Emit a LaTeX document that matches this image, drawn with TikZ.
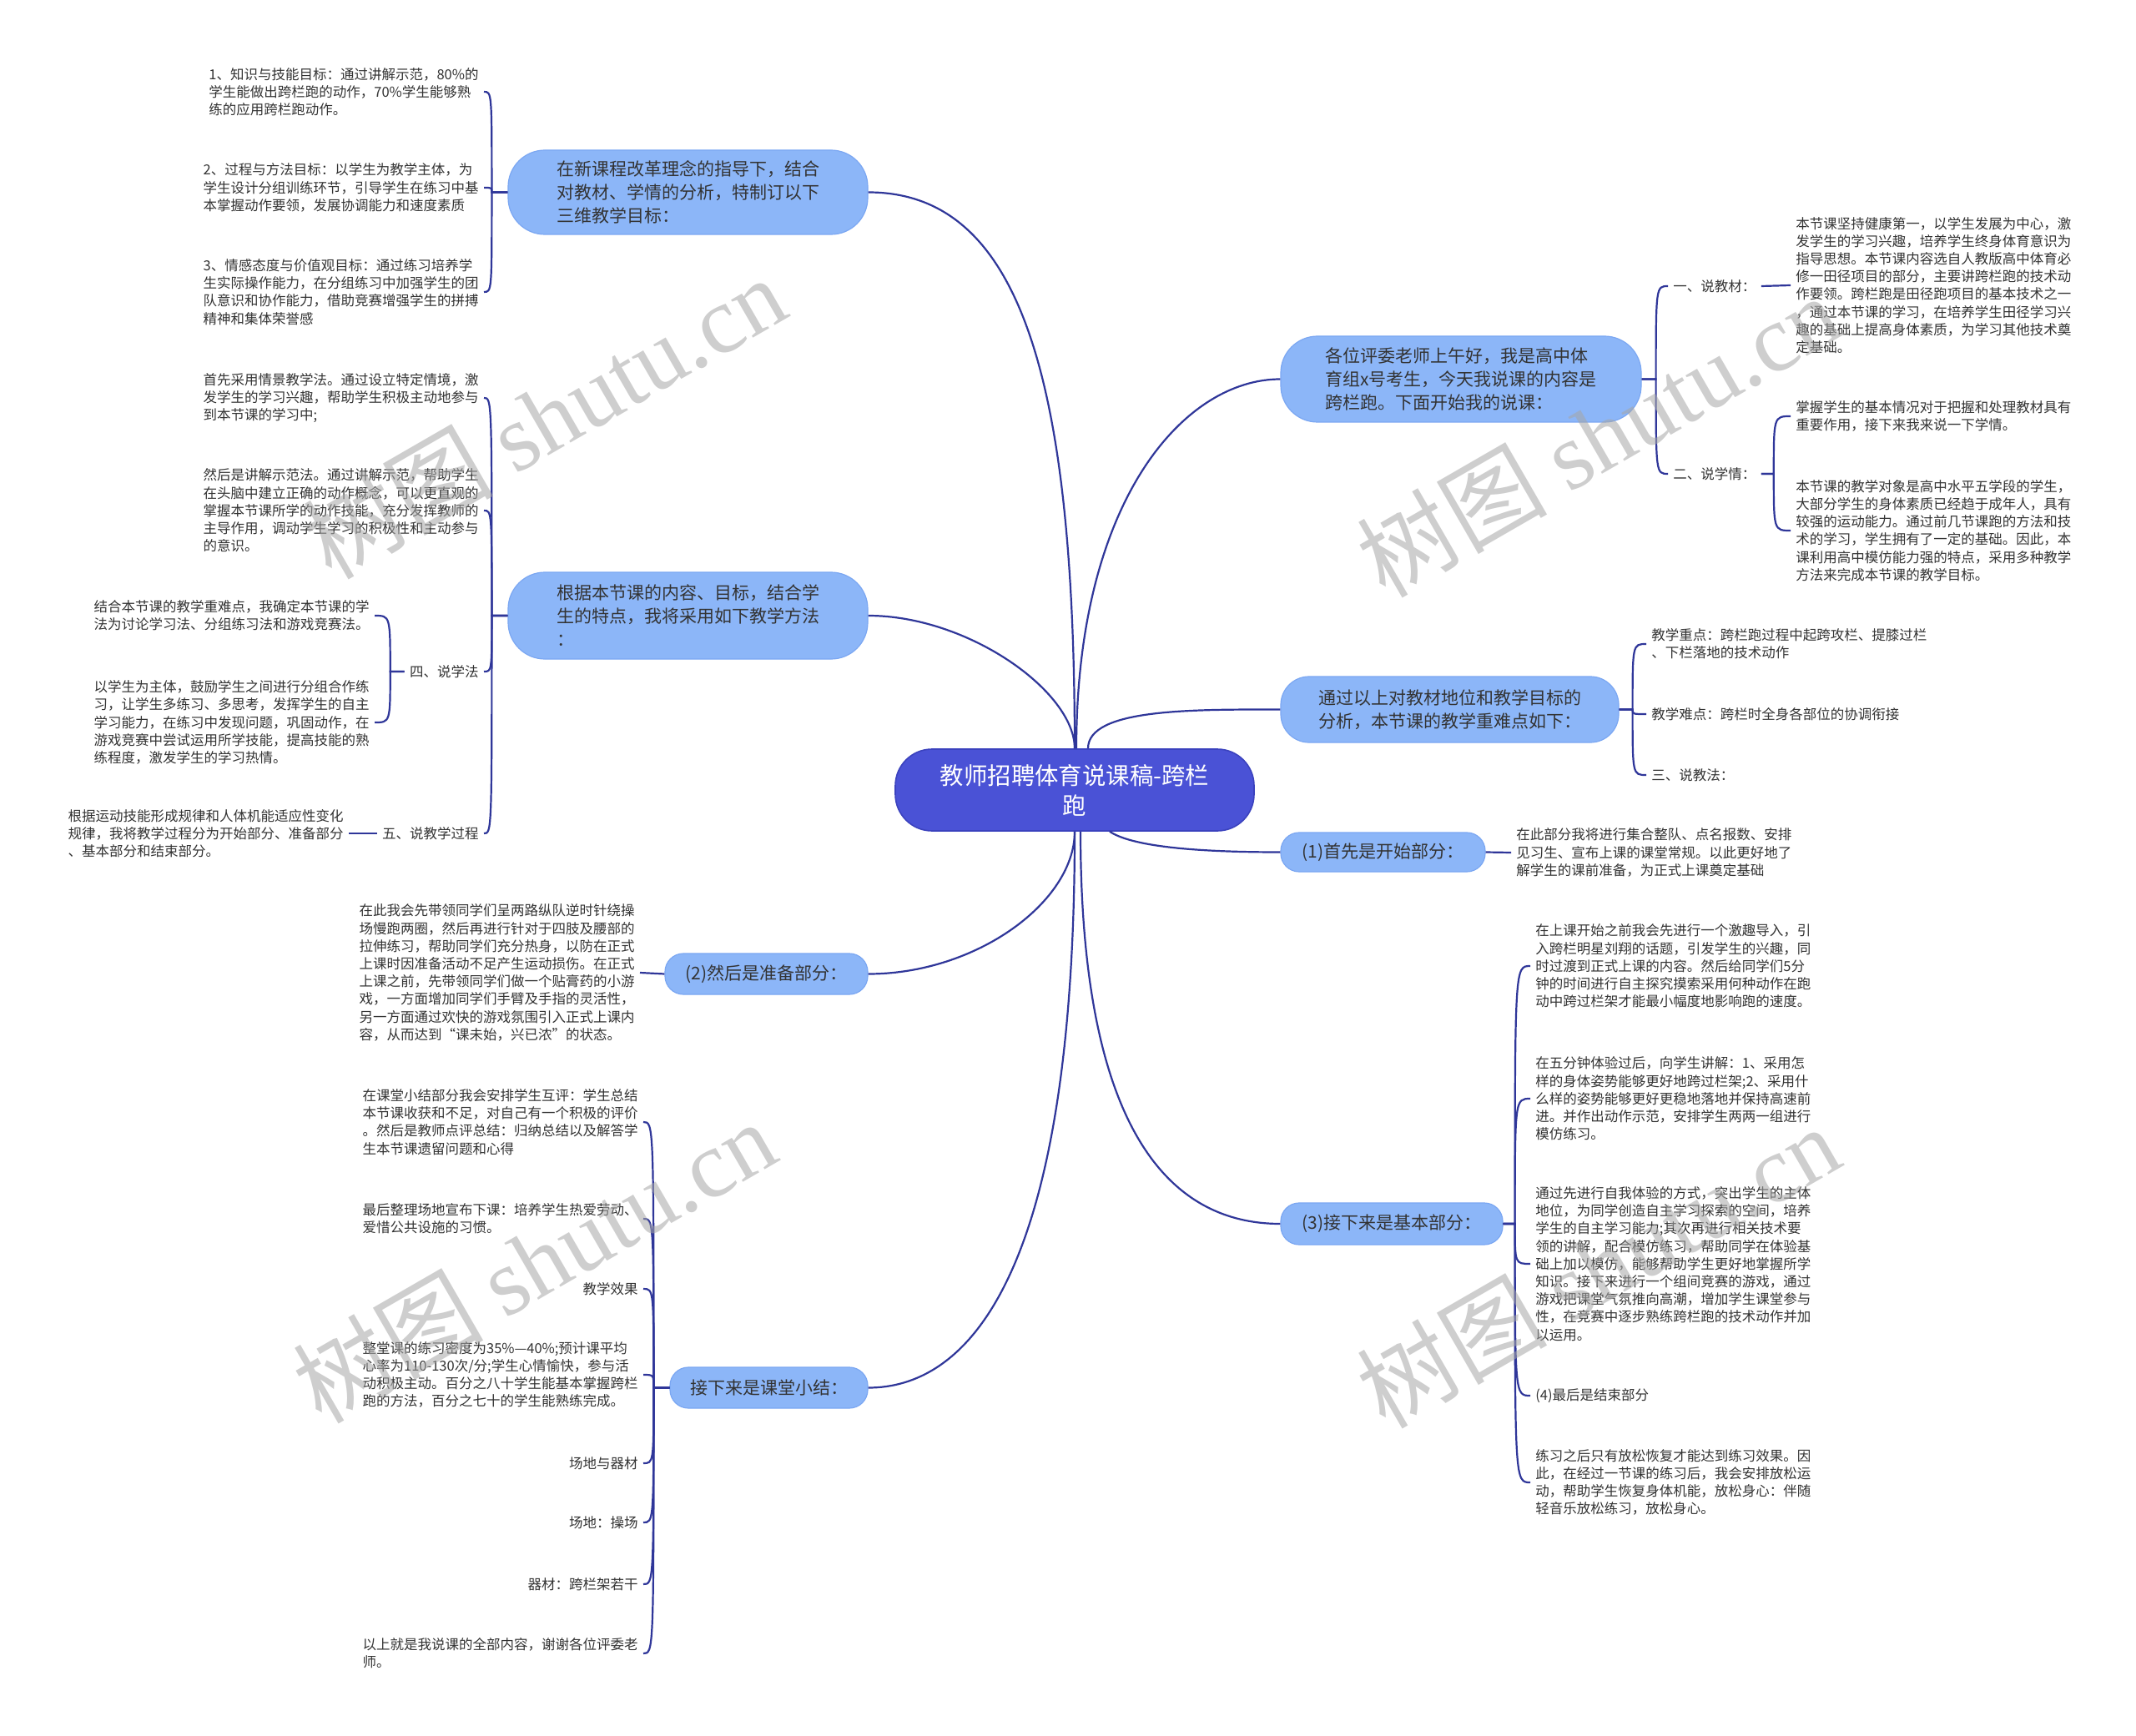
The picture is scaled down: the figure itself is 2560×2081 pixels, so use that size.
\documentclass[tikz,border=0pt]{standalone}
\usepackage{fontspec}
\setmainfont{Noto Sans CJK SC}
\newfontfamily\marklatin{Liberation Serif}
\usepackage{xcolor}
\usetikzlibrary{calc,positioning}
\definecolor{linkblue}{HTML}{2F3699}
\definecolor{rootblue}{HTML}{4A52D6}
\definecolor{rootedge}{HTML}{3B42BE}
\definecolor{topicblue}{HTML}{8CB6F8}
\definecolor{topicedge}{HTML}{7BA7F2}
\definecolor{inkgray}{HTML}{333333}
\tikzset{
  link/.style={line width=1.1pt,linkblue},
  rootnode/.style={draw=rootedge,line width=0.8pt,fill=rootblue,text=white,rounded corners=22pt,align=center,minimum width=215pt,minimum height=49pt,font=\fontsize{14.2}{18}\selectfont},
  topic/.style={draw=topicedge,line width=0.6pt,fill=topicblue,text=inkgray,rounded corners=#1,align=left,font=\fontsize{10.5}{14}\selectfont},
  topic/.default=11pt,
  leaf/.style={text=inkgray,align=left,inner sep=3pt,font=\fontsize{8.25}{10.6}\selectfont},
  leafleft/.style={leaf,anchor=east},
  leafright/.style={leaf,anchor=west},
  watermark/.style={text=black!35,opacity=0.55,rotate=30,font=\fontsize{57}{57}\selectfont}
}
\begin{document}
\begin{tikzpicture}[x=0.5pt,y=-0.5pt]
  \useasboundingbox (0,0) rectangle (2560,2081);
  \fill[white] (0,0) rectangle (2560,2081);

  % centre and first level
  \node[rootnode] (M) at (1288,947) {教师招聘体育说课稿-跨栏\\跑};
  \node[topic=22pt,minimum width=215.5pt,minimum height=50.5pt] (A) at (824.5,230.5) {在新课程改革理念的指导下，结合\\对教材、学情的分析，特制订以下\\三维教学目标：};
  \node[topic=22pt,minimum width=215.5pt,minimum height=52pt] (B) at (824.5,738) {根据本节课的内容、目标，结合学\\生的特点，我将采用如下教学方法\\：};
  \node[topic,minimum width=121.5pt,minimum height=24.5pt] (C) at (918.5,1167.5) {(2)然后是准备部分：};
  \node[topic,minimum width=118.5pt,minimum height=24.5pt] (D) at (921.5,1663.5) {接下来是课堂小结：};
  \node[topic=22pt,minimum width=216pt,minimum height=51.5pt] (E) at (1751,454.5) {各位评委老师上午好，我是高中体\\育组x号考生，今天我说课的内容是\\跨栏跑。下面开始我的说课：};
  \node[topic=17pt,minimum width=202.5pt,minimum height=39.5pt] (F) at (1737.5,850.5) {通过以上对教材地位和教学目标的\\分析，本节课的教学重难点如下：};
  \node[topic,minimum width=122.5pt,minimum height=23.5pt] (G) at (1657.5,1021.5) {(1)首先是开始部分：};
  \node[topic,minimum width=133pt,minimum height=25pt] (H) at (1668,1467) {(3)接下来是基本部分：};

  \draw[link] (M.north) .. controls +(0,-450) and +(180,0) .. (A.east);
  \draw[link] (M.north) .. controls +(0,-68) and +(120,0) .. (B.east);
  \draw[link] (M.south) .. controls +(0,84) and +(130,0) .. (C.east);
  \draw[link] (M.south) .. controls +(0,554) and +(110,0) .. (D.east);
  \draw[link] ([xshift=1pt]M.north) .. controls +(0,-298) and +(-115,0) .. (E.west);
  \draw[link] ([xshift=8pt]M.north) .. controls +(0,-48) and +(-105,0) .. (F.west);
  \draw[link] ([xshift=21pt]M.south) .. controls +(30,20) and +(-85,0) .. (G.west);
  \draw[link] ([xshift=3.5pt]M.south) .. controls +(0,354) and +(-135,0) .. (H.west);

  % left: goals
  \node[leafleft] (a1) at (580,110) {1、知识与技能目标：通过讲解示范，80\%的\\学生能做出跨栏跑的动作，70\%学生能够熟\\练的应用跨栏跑动作。};
  \node[leafleft] (a2) at (580,225) {2、过程与方法目标：以学生为教学主体，为\\学生设计分组训练环节，引导学生在练习中基\\本掌握动作要领，发展协调能力和速度素质};
  \node[leafleft] (a3) at (580,350) {3、情感态度与价值观目标：通过练习培养学\\生实际操作能力，在分组练习中加强学生的团\\队意识和协作能力，借助竞赛增强学生的拼搏\\精神和集体荣誉感};
  \coordinate (Ab) at ([xshift=-9.5pt]A.west);
  \foreach \kid in {a1,a2,a3}
    \draw[link] (A.west) -- (Ab) .. controls (Ab |- \kid.east) .. (\kid.east);

  % left: methods
  \node[leafleft] (b1) at (580,477) {首先采用情景教学法。通过设立特定情境，激\\发学生的学习兴趣，帮助学生积极主动地参与\\到本节课的学习中;};
  \node[leafleft] (b2) at (580,612) {然后是讲解示范法。通过讲解示范，帮助学生\\在头脑中建立正确的动作概念，可以更直观的\\掌握本节课所学的动作技能，充分发挥教师的\\主导作用，调动学生学习的积极性和主动参与\\的意识。};
  \node[leafleft] (b3) at (580,805) {四、说学法};
  \node[leafleft] (b4) at (580,999) {五、说教学过程};
  \coordinate (Bb) at ([xshift=-9.5pt]B.west);
  \foreach \kid in {b1,b2,b3,b4}
    \draw[link] (B.west) -- (Bb) .. controls (Bb |- \kid.east) .. (\kid.east);
  \node[leafleft] (b31) at (449,738) {结合本节课的教学重难点，我确定本节课的学\\法为讨论学习法、分组练习法和游戏竞赛法。};
  \node[leafleft] (b32) at (449,866) {以学生为主体，鼓励学生之间进行分组合作练\\习，让学生多练习、多思考，发挥学生的自主\\学习能力，在练习中发现问题，巩固动作，在\\游戏竞赛中尝试运用所学技能，提高技能的熟\\练程度，激发学生的学习热情。};
  \coordinate (b3b) at ([xshift=-8.5pt]b3.west);
  \foreach \kid in {b31,b32}
    \draw[link] (b3.west) -- (b3b) .. controls (b3b |- \kid.east) .. (\kid.east);
  \node[leafleft] (b41) at (418,999) {根据运动技能形成规律和人体机能适应性变化\\规律，我将教学过程分为开始部分、准备部分\\、基本部分和结束部分。};
  \draw[link] (b4.west) -- (b41.east);

  % left: preparation
  \node[leafleft] (c1) at (767,1166) {在此我会先带领同学们呈两路纵队逆时针绕操\\场慢跑两圈，然后再进行针对于四肢及腰部的\\拉伸练习，帮助同学们充分热身，以防在正式\\上课时因准备活动不足产生运动损伤。在正式\\上课之前，先带领同学们做一个贴膏药的小游\\戏，一方面增加同学们手臂及手指的灵活性，\\另一方面通过欢快的游戏氛围引入正式上课内\\容，从而达到“课未始，兴已浓”的状态。};
  \draw[link] (C.west) -- (c1.east);

  % left: summary
  \node[leafleft] (d1) at (771,1345) {在课堂小结部分我会安排学生互评：学生总结\\本节课收获和不足，对自己有一个积极的评价\\。然后是教师点评总结：归纳总结以及解答学\\生本节课遗留问题和心得};
  \node[leafleft] (d2) at (771,1461) {最后整理场地宣布下课：培养学生热爱劳动、\\爱惜公共设施的习惯。};
  \node[leafleft] (d3) at (771,1545) {教学效果};
  \node[leafleft] (d4) at (771,1648) {整堂课的练习密度为35\%—40\%;预计课平均\\心率为110-130次/分;学生心情愉快，参与活\\动积极主动。百分之八十学生能基本掌握跨栏\\跑的方法，百分之七十的学生能熟练完成。};
  \node[leafleft] (d5) at (771,1754) {场地与器材};
  \node[leafleft] (d6) at (771,1825) {场地：操场};
  \node[leafleft] (d7) at (771,1899) {器材：跨栏架若干};
  \node[leafleft] (d8) at (771,1982) {以上就是我说课的全部内容，谢谢各位评委老\\师。};
  \coordinate (Db) at ([xshift=-9.5pt]D.west);
  \foreach \kid in {d1,d2,d3,d4,d5,d6,d7,d8}
    \draw[link] (D.west) -- (Db) .. controls (Db |- \kid.east) .. (\kid.east);

  % right: opening
  \node[leafright] (e1) at (1999,343) {一、说教材：};
  \node[leafright] (e2) at (1999,568) {二、说学情：};
  \coordinate (Eb) at ([xshift=8.5pt]E.east);
  \foreach \kid in {e1,e2}
    \draw[link] (E.east) -- (Eb) .. controls (Eb |- \kid.west) .. (\kid.west);
  \node[leafright] (e11) at (2146,342) {本节课坚持健康第一，以学生发展为中心，激\\发学生的学习兴趣，培养学生终身体育意识为\\指导思想。本节课内容选自人教版高中体育必\\修一田径项目的部分，主要讲跨栏跑的技术动\\作要领。跨栏跑是田径跑项目的基本技术之一\\，通过本节课的学习，在培养学生田径学习兴\\趣的基础上提高身体素质，为学习其他技术奠\\定基础。};
  \draw[link] (e1.east) -- (e11.west);
  \node[leafright] (e21) at (2146,499) {掌握学生的基本情况对于把握和处理教材具有\\重要作用，接下来我来说一下学情。};
  \node[leafright] (e22) at (2146,636) {本节课的教学对象是高中水平五学段的学生，\\大部分学生的身体素质已经趋于成年人，具有\\较强的运动能力。通过前几节课跑的方法和技\\术的学习，学生拥有了一定的基础。因此，本\\课利用高中模仿能力强的特点，采用多种教学\\方法来完成本节课的教学目标。};
  \coordinate (e2b) at ([xshift=7.5pt]e2.east);
  \foreach \kid in {e21,e22}
    \draw[link] (e2.east) -- (e2b) .. controls (e2b |- \kid.west) .. (\kid.west);

  % right: key points
  \node[leafright] (f1) at (1973,772) {教学重点：跨栏跑过程中起跨攻栏、提膝过栏\\、下栏落地的技术动作};
  \node[leafright] (f2) at (1973,856) {教学难点：跨栏时全身各部位的协调衔接};
  \node[leafright] (f3) at (1973,929) {三、说教法：};
  \coordinate (Fb) at ([xshift=8pt]F.east);
  \foreach \kid in {f1,f2,f3}
    \draw[link] (F.east) -- (Fb) .. controls (Fb |- \kid.west) .. (\kid.west);

  % right: start
  \node[leafright] (g1) at (1811,1022) {在此部分我将进行集合整队、点名报数、安排\\见习生、宣布上课的课堂常规。以此更好地了\\解学生的课前准备，为正式上课奠定基础};
  \draw[link] (G.east) -- (g1.west);

  % right: main part
  \node[leafright] (h1) at (1834,1158) {在上课开始之前我会先进行一个激趣导入，引\\入跨栏明星刘翔的话题，引发学生的兴趣，同\\时过渡到正式上课的内容。然后给同学们5分\\钟的时间进行自主探究摸索采用何种动作在跑\\动中跨过栏架才能最小幅度地影响跑的速度。};
  \node[leafright] (h2) at (1834,1317) {在五分钟体验过后，向学生讲解：1、采用怎\\样的身体姿势能够更好地跨过栏架;2、采用什\\么样的姿势能够更好更稳地落地并保持高速前\\进。并作出动作示范，安排学生两两一组进行\\模仿练习。};
  \node[leafright] (h3) at (1834,1515) {通过先进行自我体验的方式，突出学生的主体\\地位，为同学创造自主学习探索的空间，培养\\学生的自主学习能力;其次再进行相关技术要\\领的讲解，配合模仿练习，帮助同学在体验基\\础上加以模仿，能够帮助学生更好地掌握所学\\知识。接下来进行一个组间竞赛的游戏，通过\\游戏把课堂气氛推向高潮，增加学生课堂参与\\性，在竞赛中逐步熟练跨栏跑的技术动作并加\\以运用。};
  \node[leafright] (h4) at (1834,1673) {(4)最后是结束部分};
  \node[leafright] (h5) at (1834,1777) {练习之后只有放松恢复才能达到练习效果。因\\此，在经过一节课的练习后，我会安排放松运\\动，帮助学生恢复身体机能，放松身心：伴随\\轻音乐放松练习，放松身心。};
  \coordinate (Hb) at ([xshift=7pt]H.east);
  \foreach \kid in {h1,h2,h3,h4,h5}
    \draw[link] (H.east) -- (Hb) .. controls (Hb |- \kid.west) .. (\kid.west);

  % watermarks
  \node[watermark] (w1) at (652,500) {树图 {\marklatin shutu.cn}};
  \node[watermark] (w2) at (1915,522) {树图 {\marklatin shutu.cn}};
  \node[watermark] (w3) at (640,1512) {树图 {\marklatin shutu.cn}};
  \node[watermark] (w4) at (1915,1518) {树图 {\marklatin shutu.cn}};
\end{tikzpicture}
\end{document}
